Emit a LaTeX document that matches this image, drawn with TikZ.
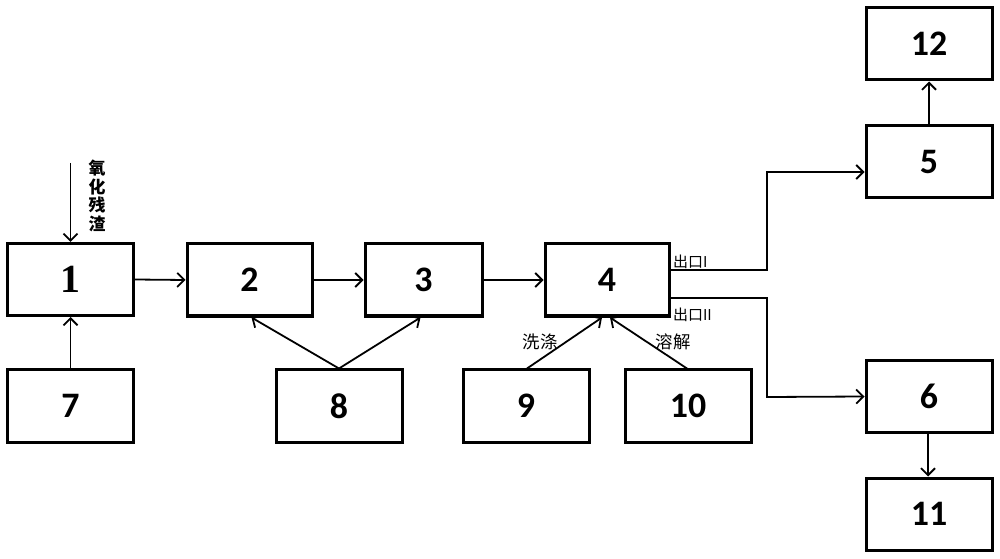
\documentclass[tikz,border=0pt]{standalone}
\usepackage{fontspec}
\setmainfont{Carlito}
\newfontfamily\serifnum{Liberation Serif}
\newfontfamily\cjk{Noto Sans CJK SC}
\usetikzlibrary{arrows.meta}
\begin{document}
\begin{tikzpicture}[x=1bp,y=-1bp,
  blk/.style={draw,line width=3bp,minimum width=126bp,minimum height=72bp,inner sep=0pt,
    font=\fontsize{36}{36}\selectfont\bfseries},
  arr/.style={line width=1.8bp,-{Straight Barb[length=7bp,width=14bp,line width=1.8bp]}},
  lbl/.style={font=\cjk\fontsize{15}{15}\selectfont,inner sep=0pt},
  lblb/.style={font=\cjk\fontsize{17.5}{17.5}\selectfont,inner sep=0pt}]
\useasboundingbox (0,0) rectangle (1000,559);
\node[blk] (n1) at (70.5,279.5) {\serifnum\fontsize{40}{40}\selectfont 1};
\node[blk,minimum width=125bp] (n2) at (249.5,280) {2};
\node[blk,minimum width=117bp] (n3) at (423.5,280) {3};
\node[blk,minimum width=124bp] (n4) at (607,280) {4};
\node[blk] (n5) at (929,162) {5};
\node[blk] (n12) at (929,44) {12};
\node[blk] (n6) at (929,396.5) {6};
\node[blk] (n11) at (929,514) {11};
\node[blk] (n7) at (70.5,406) {7};
\node[blk] (n8) at (339,406) {8};
\node[blk] (n9) at (526,406) {9};
\node[blk] (n10) at (688,406) {10};
\coordinate (in) at (70.5,163);
\coordinate (k1) at (767,172);
\coordinate (k2) at (767,397);
\draw[arr] (in) -- (n1.north);
\node[font=\cjk\bfseries\fontsize{17}{18.5}\selectfont,align=center,inner sep=0pt] (inl) at (97,196) {氧\\化\\残\\渣};
\draw[arr] (n1.east) -- (n2.west);
\draw[arr] (n2.east) -- (n3.west);
\draw[arr] (n3.east) -- (n4.west);
\draw[arr] (n7.north) -- (n1.south);
\draw[arr] (n8.north) -- ([xshift=2bp]n2.south);
\draw[arr] (n8.north) -- ([xshift=-3bp]n3.south);
\draw[arr] ([xshift=1bp]n9.north) -- ([xshift=-5bp]n4.south);
\draw[arr] ([xshift=-1bp]n10.north) -- ([xshift=3bp]n4.south);
\draw[arr] ([yshift=10bp]n4.east) -| (k1) -- ([yshift=-10bp]n5.west);
\draw[arr] ([yshift=-18bp]n4.east) -| (k2) -- (n6.west);
\draw[arr] (n5.north) -- (n12.south);
\draw[arr] ([xshift=-1bp]n6.south) -- ([xshift=-1bp]n11.north);
\node[lbl,anchor=west] (o1) at (673,262) {出口I};
\node[lbl,anchor=west] (o2) at (673,315) {出口II};
\node[lblb] (wash) at (540,342) {洗涤};
\node[lblb] (diss) at (673,342) {溶解};
\end{tikzpicture}
\end{document}
